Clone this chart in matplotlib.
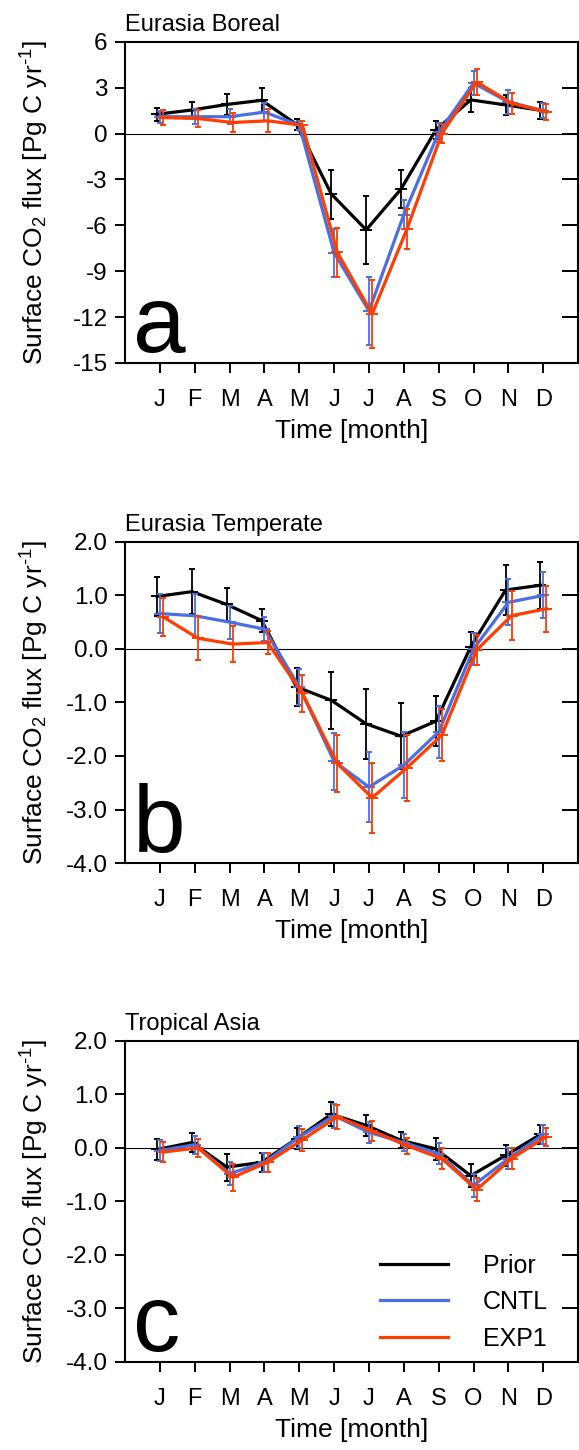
import numpy as np
import matplotlib.pyplot as plt

plt.rcParams['font.family'] = ['Liberation Sans', 'DejaVu Sans']
plt.rcParams['axes.unicode_minus'] = False
plt.rcParams['mathtext.fontset'] = 'custom'
plt.rcParams['mathtext.rm'] = 'Liberation Sans'
plt.rcParams['mathtext.it'] = 'Liberation Sans:italic'

months = ['J', 'F', 'M', 'A', 'M', 'J', 'J', 'A', 'S', 'O', 'N', 'D']
series_names = ['Prior', 'CNTL', 'EXP1']
titles = ['Eurasia Boreal', 'Eurasia Temperate', 'Tropical Asia']
letters = ['a', 'b', 'c']

# panel a: Eurasia Boreal
prior_a = [1.26, 1.54, 1.9, 2.17, 0.6, -3.96, -6.3, -3.63, 0.24, 2.2, 1.87, 1.52]
prior_a_err = [0.43, 0.55, 0.7, 0.8, 0.35, 1.6, 2.2, 1.25, 0.6, 0.8, 0.65, 0.55]
cntl_a = [1.1, 1.1, 1.1, 1.4, 0.55, -7.8, -11.6, -5.3, 0.07, 3.3, 2.06, 1.5]
cntl_a_err = [0.4, 0.5, 0.5, 0.6, 0.3, 1.55, 2.2, 0.95, 0.6, 0.8, 0.8, 0.5]
exp1_a = [1.04, 0.98, 0.72, 0.83, 0.54, -7.76, -11.8, -6.24, 0.0, 3.37, 1.98, 1.41]
exp1_a_err = [0.5, 0.55, 0.65, 0.75, 0.3, 1.6, 2.2, 1.3, 0.6, 0.85, 0.7, 0.55]

# panel b: Eurasia Temperate
prior_b = [0.98, 1.07, 0.83, 0.53, -0.71, -0.96, -1.40, -1.63, -1.35, 0.04, 1.1, 1.19]
prior_b_err = [0.36, 0.42, 0.31, 0.22, 0.35, 0.53, 0.66, 0.62, 0.47, 0.28, 0.46, 0.44]
cntl_b = [0.66, 0.62, 0.5, 0.37, -0.71, -2.1, -2.58, -2.17, -1.55, 0.0, 0.87, 1.0]
cntl_b_err = [0.36, 0.4, 0.31, 0.22, 0.34, 0.53, 0.66, 0.62, 0.48, 0.3, 0.43, 0.43]
exp1_b = [0.6, 0.2, 0.09, 0.12, -0.83, -2.14, -2.78, -2.22, -1.61, -0.02, 0.62, 0.75]
exp1_b_err = [0.36, 0.41, 0.33, 0.22, 0.34, 0.53, 0.65, 0.62, 0.48, 0.28, 0.46, 0.43]

# panel c: Tropical Asia
prior_c = [-0.03, 0.1, -0.36, -0.27, 0.17, 0.63, 0.42, 0.14, -0.02, -0.52, -0.14, 0.25]
prior_c_err = [0.19, 0.17, 0.25, 0.18, 0.2, 0.22, 0.19, 0.15, 0.2, 0.21, 0.2, 0.17]
cntl_c = [-0.05, 0.06, -0.48, -0.27, 0.2, 0.6, 0.29, 0.1, -0.11, -0.7, -0.2, 0.25]
cntl_c_err = [0.19, 0.17, 0.22, 0.18, 0.2, 0.22, 0.19, 0.15, 0.2, 0.21, 0.2, 0.17]
exp1_c = [-0.08, 0.0, -0.55, -0.27, 0.15, 0.58, 0.32, 0.04, -0.2, -0.78, -0.2, 0.21]
exp1_c_err = [0.19, 0.17, 0.25, 0.18, 0.2, 0.22, 0.19, 0.15, 0.2, 0.21, 0.2, 0.17]

panels = [
    [(prior_a, prior_a_err), (cntl_a, cntl_a_err), (exp1_a, exp1_a_err)],
    [(prior_b, prior_b_err), (cntl_b, cntl_b_err), (exp1_b, exp1_b_err)],
    [(prior_c, prior_c_err), (cntl_c, cntl_c_err), (exp1_c, exp1_c_err)],
]
yticks = [np.arange(-15, 7, 3), np.arange(-4, 2.1, 1.0), np.arange(-4, 2.1, 1.0)]
ylims = [(-15, 6), (-4, 2), (-4, 2)]
ytick_fmt = ['%d', '%.1f', '%.1f']

colors = ['black', '#4a6fe3', '#ff3d00']
offsets = [-0.08, 0.0, 0.09]

fig = plt.figure(figsize=(5.79, 14.5), dpi=100)
bottoms = [0.7497, 0.4048, 0.0607]

x = np.arange(1, 13)

for p in range(3):
    ax = fig.add_axes([0.216, bottoms[p], 0.7824, 0.2215])
    ax.axhline(0, color='black', lw=0.8, zorder=1)
    for s in range(3):
        vals, errs = panels[p][s]
        ax.plot(x + offsets[s], vals, color=colors[s], lw=2.3, zorder=3 + s,
                label=series_names[s])
        ax.errorbar(x + offsets[s], vals, yerr=errs, fmt='_', color=colors[s],
                    ms=9, mew=1.4, elinewidth=1.3, capsize=2.2, capthick=1.3,
                    zorder=3 + s)
    ax.set_xlim(0, 13)
    ax.set_ylim(*ylims[p])
    ax.set_xticks(x)
    ax.set_xticklabels(months, fontsize=17)
    ax.set_yticks(yticks[p])
    ax.set_yticklabels([ytick_fmt[p] % v for v in yticks[p]], fontsize=17.5)
    ax.tick_params(axis='both', direction='out', length=7.5, width=1.4)
    ax.tick_params(axis='x', pad=11)
    ax.tick_params(axis='y', pad=5)
    ax2 = ax.secondary_yaxis('right')
    ax2.set_yticks(yticks[p])
    ax2.tick_params(direction='in', length=11.5, width=1.4, labelright=False)
    ax2.spines['right'].set_visible(False)
    for sp in ax.spines.values():
        sp.set_linewidth(1.5)
    ax.set_xlabel('Time [month]', fontsize=19, labelpad=6)
    ax.set_ylabel(r'Surface CO$_2$ flux [Pg C yr$^{\text{-1}}$]', fontsize=19)
    ax.yaxis.set_label_coords(-0.163, 0.5)
    ax.set_title(titles[p], loc='left', fontsize=17, pad=8)
    ax.text(0.018, 0.035, letters[p], transform=ax.transAxes, fontsize=68,
            ha='left', va='baseline')
    if p == 2:
        ax.legend(loc='lower left', bbox_to_anchor=(0.563, 0.035), frameon=False,
                  fontsize=18, handlelength=2.72, handletextpad=1.4,
                  labelspacing=0.5, borderpad=0, borderaxespad=0)

plt.savefig('out.png', dpi=100)
